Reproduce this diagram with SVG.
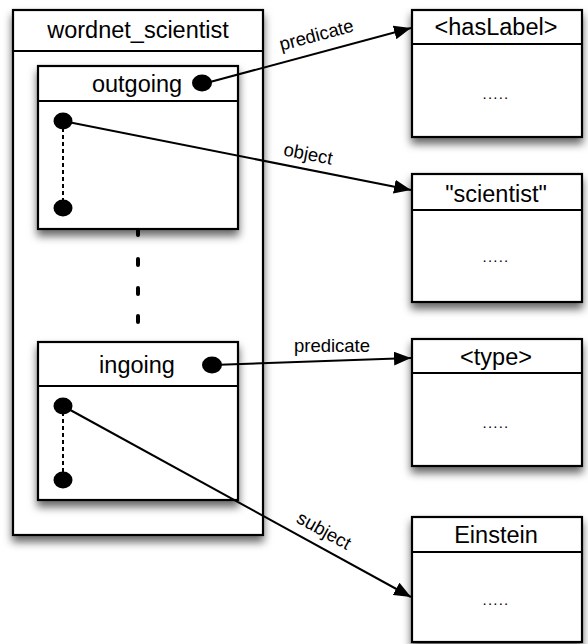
<svg xmlns="http://www.w3.org/2000/svg" width="588" height="644" viewBox="0 0 588 644">
<style>
.box{fill:#fff;stroke:#000;stroke-width:2.2}
.sep{stroke:#000;stroke-width:2.2}
.t{font-family:"Liberation Sans",Arial,sans-serif;font-size:23.5px;fill:#000;text-anchor:middle}
.lbl{font-family:"Liberation Sans",Arial,sans-serif;font-size:18.5px;fill:#000;text-anchor:middle}
.dots{font-family:"Liberation Sans",Arial,sans-serif;font-size:15px;letter-spacing:1.2px;fill:#000;text-anchor:middle}
.conn{stroke:#000;stroke-width:2;fill:none}
.dash{stroke:#000;stroke-width:2;stroke-dasharray:4,3}
.vdot{stroke:#000;stroke-width:4;stroke-linecap:round}
</style>
<defs>
<filter id="sh" x="-20%" y="-20%" width="140%" height="140%">
<feDropShadow dx="0" dy="6" stdDeviation="4.5" flood-color="#000" flood-opacity="0.6"/>
</filter>
<marker id="ah" markerUnits="userSpaceOnUse" markerWidth="18" markerHeight="14" refX="17" refY="7" orient="auto">
<path d="M0,0 L17,7 L0,14 z" fill="#000"/>
</marker>
</defs>

<g id="wordnet_scientist">
<rect class="box" x="13" y="10" width="250" height="525" filter="url(#sh)"/>
<line class="sep" x1="13" y1="51" x2="263" y2="51"/>
<text class="t" x="138" y="38">wordnet_scientist</text>
<line class="vdot" x1="138" y1="230" x2="138" y2="235"/>
<line class="vdot" x1="138" y1="259" x2="138" y2="265"/>
<line class="vdot" x1="138" y1="288" x2="138" y2="294"/>
<line class="vdot" x1="138" y1="316" x2="138" y2="322"/>
</g>

<g id="outgoing">
<rect class="box" x="38" y="66" width="200" height="163" filter="url(#sh)"/>
<line class="sep" x1="38" y1="101" x2="238" y2="101"/>
<text class="t" x="137" y="92">outgoing</text>
<ellipse cx="202" cy="83" rx="10" ry="8.5" fill="#000"/>
<line class="dash" x1="63" y1="128" x2="63" y2="202"/>
<ellipse cx="63" cy="121" rx="9.5" ry="8.5" fill="#000"/>
<ellipse cx="63" cy="208" rx="9.5" ry="8.5" fill="#000"/>
</g>

<g id="ingoing">
<rect class="box" x="38" y="342" width="200" height="158" filter="url(#sh)"/>
<line class="sep" x1="38" y1="386" x2="238" y2="386"/>
<text class="t" x="137" y="373">ingoing</text>
<ellipse cx="212" cy="365" rx="10" ry="8.5" fill="#000"/>
<line class="dash" x1="63" y1="412" x2="63" y2="474"/>
<ellipse cx="63" cy="406" rx="9.5" ry="8.5" fill="#000"/>
<ellipse cx="63" cy="480" rx="9.5" ry="8.5" fill="#000"/>
</g>

<g id="hasLabel">
<rect class="box" x="412" y="10" width="170" height="127" filter="url(#sh)"/>
<line class="sep" x1="412" y1="44" x2="582" y2="44"/>
<text class="t" x="496" y="35">&lt;hasLabel&gt;</text>
<text class="dots" x="496" y="99">.....</text>
</g>

<g id="scientist">
<rect class="box" x="412" y="174" width="170" height="128" filter="url(#sh)"/>
<line class="sep" x1="412" y1="210" x2="582" y2="210"/>
<text class="t" x="496" y="202">"scientist"</text>
<text class="dots" x="496" y="262">.....</text>
</g>

<g id="type">
<rect class="box" x="412" y="339" width="170" height="127" filter="url(#sh)"/>
<line class="sep" x1="412" y1="373" x2="582" y2="373"/>
<text class="t" x="496" y="365">&lt;type&gt;</text>
<text class="dots" x="496" y="428">.....</text>
</g>

<g id="Einstein">
<rect class="box" x="412" y="517" width="170" height="125" filter="url(#sh)"/>
<line class="sep" x1="412" y1="552" x2="582" y2="552"/>
<text class="t" x="496" y="543">Einstein</text>
<text class="dots" x="496" y="605">.....</text>
</g>

<g id="connectors">
<line class="conn" x1="210" y1="82" x2="411" y2="28" marker-end="url(#ah)"/>
<text class="lbl" transform="translate(318,41) rotate(-15)">predicate</text>
<line class="conn" x1="63" y1="121" x2="411" y2="190" marker-end="url(#ah)"/>
<text class="lbl" transform="translate(307,160) rotate(11)">object</text>
<line class="conn" x1="212" y1="365" x2="411" y2="358" marker-end="url(#ah)"/>
<text class="lbl" x="332" y="352">predicate</text>
<line class="conn" x1="63" y1="406" x2="411" y2="597" marker-end="url(#ah)"/>
<text class="lbl" transform="translate(321,536) rotate(29)">subject</text>
</g>
</svg>
